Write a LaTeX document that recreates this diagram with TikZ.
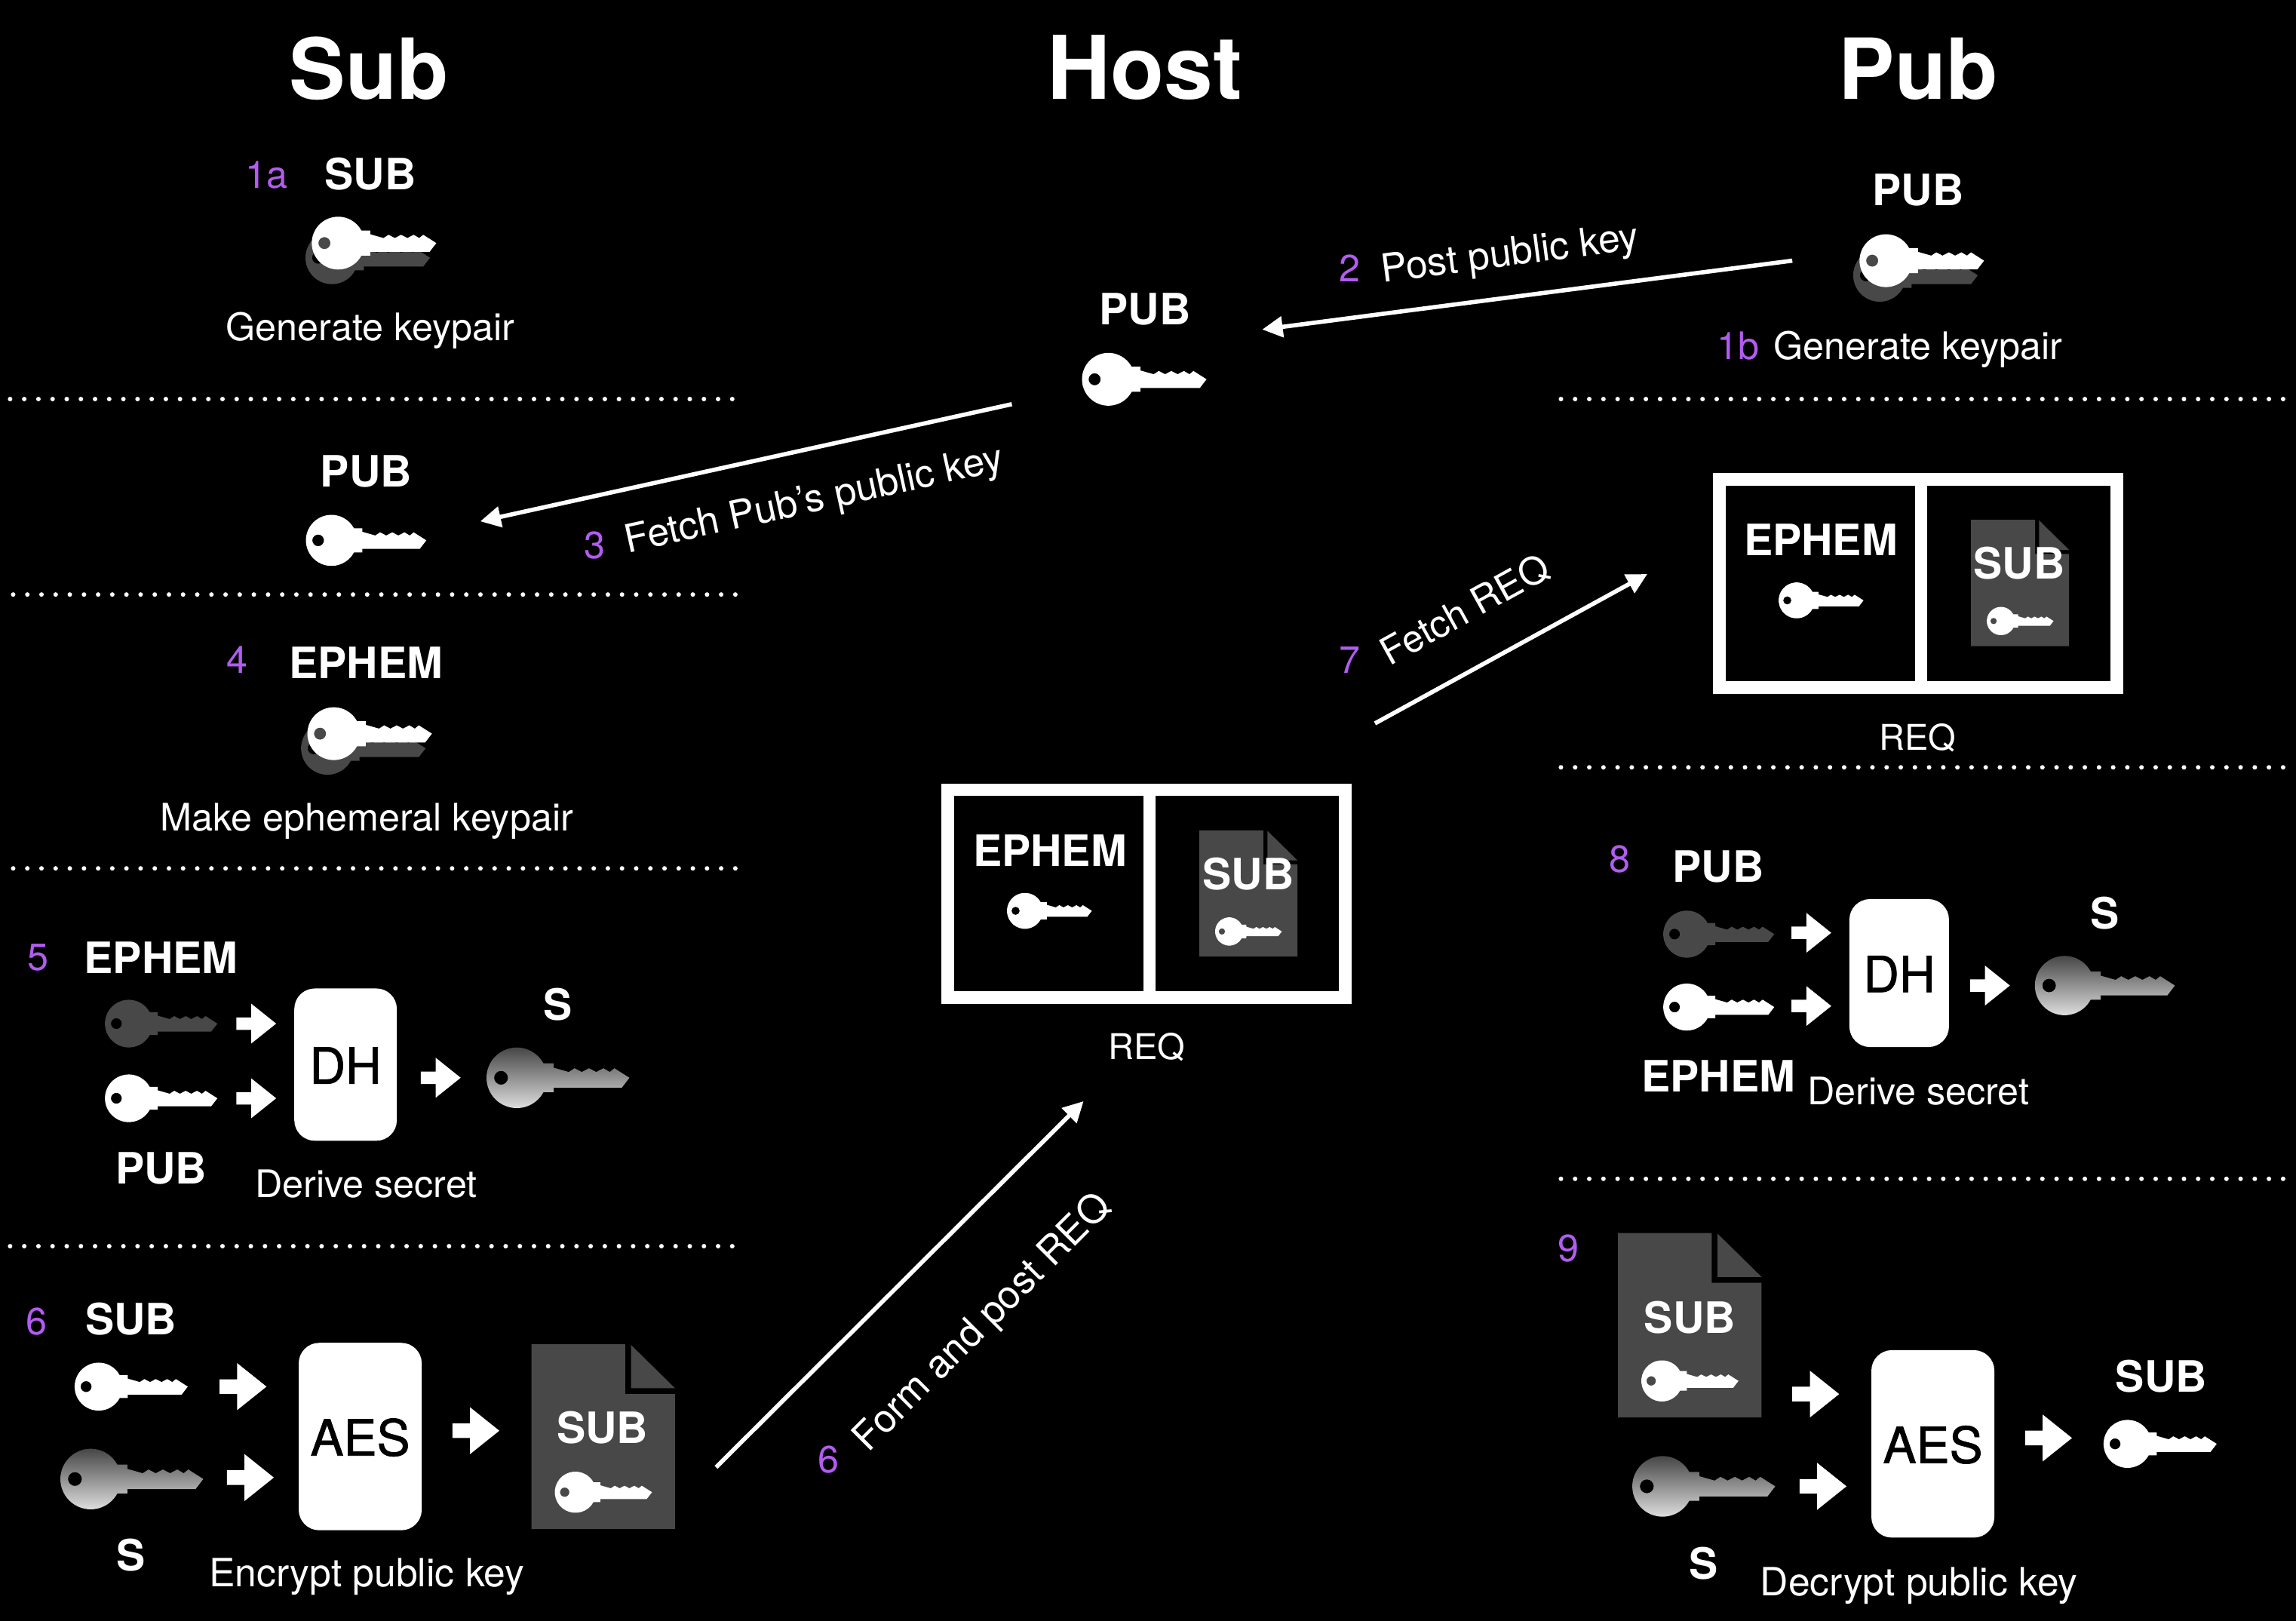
\documentclass[tikz,border=0pt]{standalone}
\usepackage{fontspec}
\setmainfont{TeX Gyre Heros}
\newfontfamily\opfont[FakeBold=1.2]{TeX Gyre Heros}
\usetikzlibrary{arrows.meta}
\definecolor{stepcol}{HTML}{B25CF0}
\definecolor{darkgrey}{HTML}{484848}
\definecolor{shadetop}{HTML}{3C3C3C}
\definecolor{shadebot}{HTML}{E8E8E8}

\begin{document}
\begin{tikzpicture}[
    x=1pt, y=-1pt,
    every node/.style={inner sep=0pt, text=white, text depth=0pt},
    coltitle/.style={font=\fontsize{57.5}{60}\selectfont\bfseries, text height=41pt},
    keylabel/.style={font=\fontsize{29.5}{32}\selectfont\bfseries, text height=21pt},
    caption/.style={font=\fontsize{25.9}{28}\selectfont, text height=19pt},
    widecap/.style={font=\fontsize{26.6}{28}\selectfont, text height=19pt},
    reqcap/.style={font=\fontsize{24.2}{28}\selectfont, text height=19pt},
    stepnum/.style={font=\fontsize{25.9}{28}\selectfont, text=stepcol, text height=19pt},
    opbox/.style={fill=white, rounded corners=14pt, text=black, text height=26pt,
        font=\fontsize{34}{36}\opfont},
    msgarrow/.style={-{Triangle[length=14pt,width=14pt]}, line width=2.9pt, white},
    sepline/.style={white, line width=3.1pt, line cap=round, dash pattern=on 0pt off 9.67pt},
    reqline/.style={white, line width=8.6pt},
    keywhite/.style={fill=white},
    keydark/.style={fill=darkgrey},
    keyshade/.style={top color=shadetop, bottom color=shadebot},
    pics/keyicon/.style={code={
        \path[even odd rule, #1] (92,-50) -- (127,-50) -- (127,-35) -- (180,-20) -- (200,-33)
            -- (225,-20) -- (250,-33) -- (275,-20) -- (300,-33) -- (322,-20) -- (338,-33)
            -- (390,0) -- (363,35) -- (127,35) -- (127,50) -- (92,50)
            arc[start angle=28.4, end angle=331.6, radius=105] -- cycle
            (-55,0) circle[radius=24];
    }},
    pics/docicon/.style={code={
        \fill[darkgrey] (0,0) -- (64,0) -- (64,34) -- (98,34) -- (98,126) -- (0,126) -- cycle;
        \fill[darkgrey] (68,0.5) -- (98,30) -- (68,30) -- cycle;
        \pic[scale=#1] at (30,101) {keyicon=keywhite};
    }},
    pics/reqbox/.style={code={
        \draw[reqline] (4.3,4.3) rectangle (275.7,146.4);
        \draw[reqline] (142,4.3) -- (142,146.4);
        \pic[scale=.117] at (57,87) {keyicon=keywhite};
        \pic[scale=.684] at (176,32) {docicon=.092};
    }},
    pics/blockarrow/.style={code={
        \fill[white] (-16,-5) -- (-4,-5) -- (-4,-16) -- (16,0) -- (-4,16) -- (-4,5) -- (-16,5) -- cycle;
    }},
    ]

    \useasboundingbox (0,0) rectangle (1568,1106.5);
    \fill[black] (-2,-2) rectangle (1570,1109);

    \node[coltitle] (subtitle) at (252,47) {Sub};
    \node[coltitle, font=\fontsize{60}{62}\selectfont\bfseries] (hosttitle) at (782,47) {Host};
    \node[coltitle] (pubtitle) at (1310,47) {Pub};

    \foreach \xa/\xb/\yy in {6.9/502/272.5, 9/505/406, 9/505/593, 6.9/502/851,
                            1066/1562/272.5, 1066/1562/524, 1066/1562/805}{
    \draw[sepline] (\xa,\yy) -- (\xb,\yy);
    }

    % shadow keys, then the keys
    \foreach \x/\y in {226.7/176, 1283.7/188, 223.7/511}{
    \pic[scale=.1717] at (\x,\y) {keyicon=keydark};
    }
    \foreach \x/\y/\k/\look in {231/166/.1717/keywhite, 1288/178/.1717/keywhite,
                                228/501/.1717/keywhite, 757/259/.1717/keywhite,
                                226.4/369/.166/keywhite,
                                88/699/.155/keydark, 88/750/.155/keywhite,
                                353/736/.197/keyshade,
                                67.4/946.9/.156/keywhite, 62/1010/.197/keyshade,
                                1152/637.9/.153/keydark, 1152/687.7/.153/keywhite,
                                1410/673/.193/keyshade,
                                1135.5/1015/.197/keyshade, 1453/986/.156/keywhite}{
    \pic[scale=\k] at (\x,\y) {keyicon=\look};
    }

    \pic at (643,535) {reqbox};
    \pic at (1170,323) {reqbox};
    \pic at (363,918) {docicon=.134};
    \pic at (1105,842) {docicon=.134};

    \foreach \nm/\x/\y/\txt in {suba/253/119/SUB, pubb/1310/130/PUB, pubh/782/211/PUB,
                                pubs/250/322/PUB, ephs/250/453/EPHEM,
                                ephd/110/654/EPHEM, pubd/110/798/PUB, sd/381/686/S,
                                sube/89.5/901/SUB, se/89.5/1062/S, subd/411.5/975/SUB,
                                ephh/717/581/EPHEM, subh/852.5/597/SUB,
                                ephp/1243.5/369/EPHEM, subp/1379/385/SUB,
                                pube/1173.5/592/PUB, ephe/1173.5/735/EPHEM, sf/1437.5/624/S,
                                subf/1154/900/SUB, subg/1476/940/SUB, sg/1163.5/1068/S}{
    \node[keylabel] (\nm) at (\x,\y) {\txt};
    }

    \foreach \nm/\x/\y/\txt in {gena/253/223/Generate keypair, genb/1310/236/Generate keypair,
                                mkeph/250.5/558/Make ephemeral keypair,
                                dera/250/808/Derive secret, derb/1310/745/Derive secret}{
    \node[caption] (\nm) at (\x,\y) {\txt};
    }
    \node[widecap] (enc) at (250.5,1074) {Encrypt public key};
    \node[widecap] (dec) at (1310.5,1080) {Decrypt public key};
    \node[reqcap] (reqh) at (783,714) {REQ};
    \node[reqcap] (reqp) at (1309.5,503) {REQ};

    \foreach \nm/\x/\y/\txt in {numa/182/119/1a, numb/1187/236/1b, numc/922/183/2,
                                numd/406/372/3, nume/162/450/4, numf/26/653/5,
                                numg/25/902/6, numh/566/996/6, numi/922/450/7,
                                numj/1106/586/8, numk/1071/852/9}{
    \node[stepnum] (\nm) at (\x,\y) {\txt};
    }

    \node[opbox, minimum width=70pt, minimum height=104pt] (dha) at (236,727) {DH};
    \node[opbox, minimum width=68pt, minimum height=101pt] (dhb) at (1297,664.5) {DH};
    \node[opbox, minimum width=84pt, minimum height=128pt] (aesa) at (246,981) {AES};
    \node[opbox, minimum width=84pt, minimum height=128pt] (aesb) at (1320,986) {AES};

    \foreach \x/\y in {175/699, 175/750, 301/736, 1237/637, 1237/687, 1359/673}{
    \pic[scale=.85] at (\x,\y) {blockarrow};
    }
    \foreach \x/\y in {166/946.9, 171/1009, 325/977, 1240/952, 1245/1015, 1399/982}{
    \pic at (\x,\y) {blockarrow};
    }

    \coordinate (postfrom) at (1224,178);
    \coordinate (postto) at (862,225);
    \coordinate (fetchfrom) at (691,276);
    \coordinate (fetchto) at (328,356);
    \coordinate (formfrom) at (489,1002);
    \coordinate (formto) at (740,752);
    \coordinate (reqfrom) at (939,494);
    \coordinate (reqto) at (1125,392);

    \draw[msgarrow] (postfrom) -- (postto);
    \draw[msgarrow] (fetchfrom) -- (fetchto);
    \draw[msgarrow] (formfrom) -- (formto);
    \draw[msgarrow] (reqfrom) -- (reqto);

    \node[widecap, rotate=7.4] (postlbl) at (1031,172) {Post public key};
    \node[widecap, rotate=12.4] (fetchlbl) at (555.5,340) {Fetch Pub’s public key};
    \node[widecap, rotate=45] (formlbl) at (670,902) {Form and post REQ};
    \node[caption, rotate=29] (reqlbl) at (1000,416) {Fetch REQ};

\end{tikzpicture}
\end{document}
